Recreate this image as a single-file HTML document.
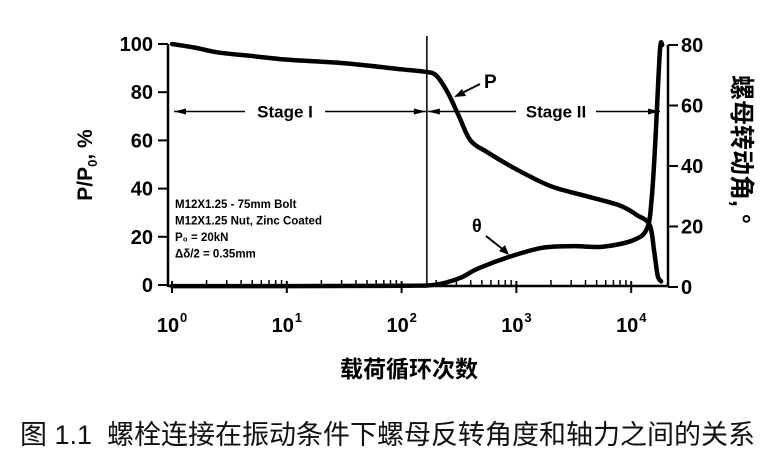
<!DOCTYPE html>
<html><head><meta charset="utf-8"><style>
html,body{margin:0;padding:0;background:#fff;width:778px;height:456px;overflow:hidden}
svg text{font-family:"Liberation Sans","Noto Sans CJK SC",sans-serif}
#cap{position:absolute;left:20px;top:413px;font-family:"Liberation Sans","Noto Sans CJK SC",sans-serif;font-size:27px;white-space:nowrap;color:#111}
</style></head><body>
<svg id="chart" width="778" height="456" style="position:absolute;left:0;top:0"></svg>
<div id="cap">图 1.1&nbsp; 螺栓连接在振动条件下螺母反转角度和轴力之间的关系</div>
<script>
const xTickExps=[0,1,2,3,4];
const yLeftTicks=[0,20,40,60,80,100];
const yRightTicks=[0,20,40,60,80];
const pLogN=[0,0.2,0.4,0.7,1,1.5,2,2.2,2.3,2.4,2.5,2.6,2.75,3,3.3,3.6,3.9,4.05,4.16,4.2,4.23,4.26];
const pVals=[100,98.5,96.5,95,93.5,92,89.5,88.5,87,80,70,60,55,48,41,37,33,29,25,14,4,1.5];
const tLogN=[0,1,2,2.3,2.51,2.66,2.94,3.23,3.5,3.75,4.02,4.14,4.18,4.21,4.25,4.27];
const tVals=[0.3,0.3,0.4,0.8,3,6,10,13,13.5,13.3,15.5,19.5,30,48,78,80];
const stageBoundary=2.22;

const svg=document.getElementById('chart');
const NS='http://www.w3.org/2000/svg';
const X0=172,DEC=114.8,YB=285,YT=44,RB=287,RT=45,LX=168,RX=668;
const xs=e=>X0+e*DEC;
const yl=v=>YB-(v/100)*(YB-YT);
const yr=v=>RB-(v/80)*(RB-RT);
function el(t,a,p){const e=document.createElementNS(NS,t);for(const k in a)e.setAttribute(k,a[k]);(p||svg).appendChild(e);return e;}

let e;
e=el('line',{x1:LX,y1:YT,x2:LX,y2:YB+2,stroke:'#000','stroke-width':2.5});


e=el('line',{x1:RX,y1:RT,x2:RX,y2:RB,stroke:'#000','stroke-width':2.5});


e=el('line',{x1:LX,y1:YB+1,x2:RX,y2:YB+1,stroke:'#000','stroke-width':2.5});



yLeftTicks.forEach(v=>{
  el('line',{x1:LX-10,y1:yl(v),x2:LX,y2:yl(v),stroke:'#000','stroke-width':2});
  const t=el('text',{x:LX-15,y:yl(v)+7,'text-anchor':'end','font-size':20,'font-weight':'bold'});
  t.textContent=v;
  
  
});
yRightTicks.forEach(v=>{
  el('line',{x1:RX,y1:yr(v),x2:RX+10,y2:yr(v),stroke:'#000','stroke-width':2});
  const t=el('text',{x:RX+13,y:yr(v)+7,'font-size':20,'font-weight':'bold'});
  t.textContent=v;
  
  
});
xTickExps.forEach(ex=>{
  el('line',{x1:xs(ex),y1:YB+8,x2:xs(ex),y2:YB-4,stroke:'#000','stroke-width':2});
  if(ex<4)for(let m=2;m<10;m++){const x=xs(ex+Math.log10(m));el('line',{x1:x,y1:YB-5,x2:x,y2:YB,stroke:'#000','stroke-width':1.5});}
  const t=el('text',{x:xs(ex)-4,y:YB+47,'text-anchor':'middle','font-size':20,'font-weight':'bold'});
  t.textContent='10';
  
  
  const s=el('text',{x:xs(ex)+8,y:YB+37,'font-size':13,'font-weight':'bold'});
  s.textContent=ex;
});
const bx=xs(stageBoundary);
e=el('line',{x1:bx,y1:36,x2:bx,y2:YB,stroke:'#000','stroke-width':1.5});


const sy=yl(72);
function arrowLine(x1,x2,label,lx,name){
  el('line',{x1:x1,y1:sy,x2:lx-40,y2:sy,stroke:'#000','stroke-width':1.5});
  el('line',{x1:lx+40,y1:sy,x2:x2,y2:sy,stroke:'#000','stroke-width':1.5});
  el('polygon',{points:`${x1},${sy} ${x1+12},${sy-3} ${x1+12},${sy+3}`,fill:'#000'});
  el('polygon',{points:`${x2},${sy} ${x2-12},${sy-3} ${x2-12},${sy+3}`,fill:'#000'});
  const t=el('text',{x:lx,y:sy+6,'text-anchor':'middle','font-size':17,'font-weight':'bold'});
  t.textContent=label;
  
  
}
arrowLine(xs(0)+2,bx-1,'Stage I',285,'stage-1-label');
arrowLine(bx+1,RX-8,'Stage II',556,'stage-2-label');

function curve(lx,vs,yf,name){
  const d=lx.map((l,i)=>[xs(l),yf(vs[i])]);
  let s='M'+d[0].join(',');
  for(let i=1;i<d.length;i++){const p0=d[i-2]||d[i-1],p1=d[i-1],p2=d[i],p3=d[i+1]||d[i];
    const c1=[p1[0]+(p2[0]-p0[0])/6,p1[1]+(p2[1]-p0[1])/6],c2=[p2[0]-(p3[0]-p1[0])/6,p2[1]-(p3[1]-p1[1])/6];
    s+=`C${c1} ${c2} ${p2}`;}
  const p=el('path',{d:s,fill:'none',stroke:'#000','stroke-width':4.5,'stroke-linecap':'round','stroke-linejoin':'round'});
  
  
}
curve(pLogN,pVals,yl,'p-curve');
curve(tLogN,tVals,yr,'theta-curve');

let t=el('text',{x:484,y:88,'font-size':19,'font-weight':'bold'});t.textContent='P';


el('line',{x1:480,y1:84,x2:458,y2:95,stroke:'#000','stroke-width':2});
el('polygon',{points:'454,97 462,89 466,96',fill:'#000'});
t=el('text',{x:472,y:232,'font-size':18,'font-weight':'bold'});t.textContent='θ';


el('line',{x1:486,y1:236,x2:505,y2:251,stroke:'#000','stroke-width':2});
el('polygon',{points:'509,255 499,251 505,245',fill:'#000'});

['M12X1.25 - 75mm Bolt','M12X1.25 Nut, Zinc Coated','P₀ = 20kN','Δδ/2 = 0.35mm'].forEach((s,i)=>{
  const t=el('text',{x:175,y:208+i*16.5,'font-size':11.5,'font-weight':'bold'});
  t.textContent=s;
  
  
});

t=el('text',{x:0,y:0,'font-size':21,'text-anchor':'middle','font-weight':'bold',transform:'translate(92,165) rotate(-90)'});
t.innerHTML='P/P<tspan font-size="13" dy="5">0</tspan><tspan dy="-5">, %</tspan>';


t=el('text',{x:0,y:0,'font-size':25,'font-weight':'bold',transform:'translate(733,75) rotate(90)'});
t.textContent='螺母转动角, °';


t=el('text',{x:409,y:377,'font-size':23,'font-weight':'bold','text-anchor':'middle'});
t.textContent='载荷循环次数';


</script>
</body></html>
